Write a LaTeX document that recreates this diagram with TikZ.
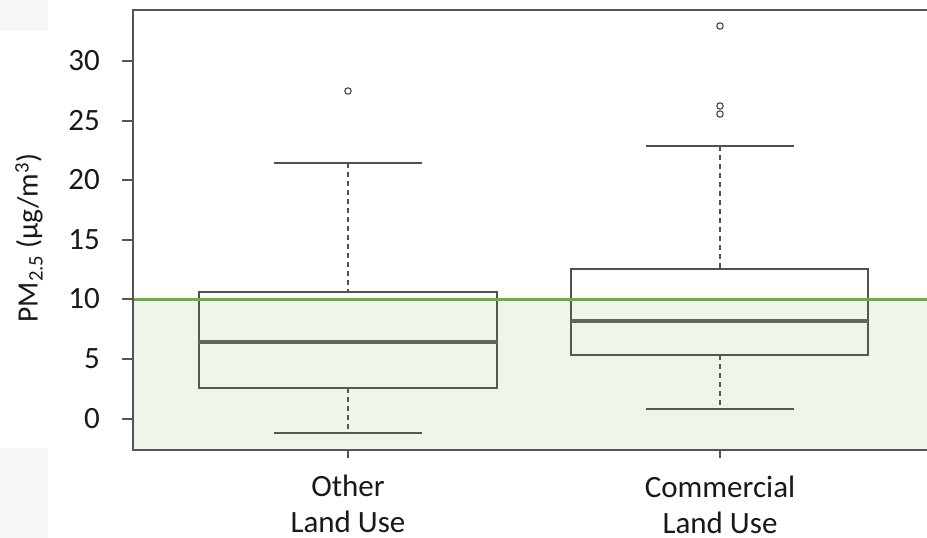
\documentclass[tikz,border=0pt]{standalone}
\usepackage{fontspec}
\setmainfont{Carlito}
\definecolor{frmgray}{RGB}{85,85,85}
\definecolor{boxgray}{RGB}{80,80,80}
\definecolor{medgray}{RGB}{95,95,95}
\definecolor{outgray}{RGB}{70,70,70}
\definecolor{txtcol}{RGB}{25,25,25}
\definecolor{patchgray}{RGB}{246,246,246}
\definecolor{guidegreen}{RGB}{112,173,71}
\begin{document}
\begin{tikzpicture}[x=1pt,y=-1pt,
  frameline/.style={draw=frmgray,line width=2pt},
  boxline/.style={draw=boxgray,line width=2pt,line join=miter},
  medline/.style={draw=medgray,line width=3.2pt},
  whisk/.style={draw=boxgray,line width=1.6pt,dash pattern=on 5pt off 4pt},
  capline/.style={draw=boxgray,line width=1.6pt},
  outl/.style={draw=outgray,line width=1.1pt,fill=white},
  ticklab/.style={anchor=east,inner sep=0pt,font=\fontsize{31}{36}\selectfont,text=txtcol},
  catlab/.style={anchor=north,inner sep=0pt,align=center,font=\fontsize{31}{36}\selectfont,text=txtcol}
]
\useasboundingbox (0,0) rectangle (927,538);
\fill[white] (0,0) rectangle (927,538);
% faint grey patches at the left
\fill[patchgray] (0,0) rectangle (48,31);
\fill[patchgray] (0,448) rectangle (48,538);

% ---- box 1: Other Land Use (centre x=348)
\draw[whisk] (348,163) -- (348,292);
\draw[whisk] (348,388) -- (348,433);
\draw[capline] (274,163) -- (422,163);
\draw[capline] (274,433) -- (422,433);
\draw[boxline,fill=white] (199,292) rectangle (497,388);
\draw[medline] (199,342) -- (497,342);
\draw[outl] (348,91) circle (3.2pt);

% ---- box 2: Commercial Land Use (centre x=720)
\draw[whisk] (720,146) -- (720,269);
\draw[whisk] (720,355) -- (720,409);
\draw[capline] (646,146) -- (794,146);
\draw[capline] (646,409) -- (794,409);
\draw[boxline,fill=white] (571,269) rectangle (868,355);
\draw[medline] (571,321) -- (868,321);
\draw[outl] (720,26) circle (3.2pt);
\draw[outl] (720,106) circle (3.2pt);
\draw[outl] (720,114) circle (3.2pt);

% ---- green guideline region (value 10 and below)
\fill[guidegreen,fill opacity=0.11] (133,299) rectangle (927,450);
\draw[guidegreen,line width=3pt] (134,299) -- (927,299);

% ---- frame
\draw[frameline] (927,10) -- (133,10) -- (133,450) -- (927,450);

% ---- y ticks and labels
\foreach \v/\yy in {30/61,25/121,20/180,15/240,10/299,5/359,0/419}{
  \draw[frameline,line width=1.6pt] (122,\yy) -- (133,\yy);
  \node[ticklab] (t\v) at (100,\yy) {\v};
}
\node[rotate=90,inner sep=0pt,font=\fontsize{29.5}{35}\selectfont,text=txtcol] (ylab) at (29,238) {PM\textsubscript{2.5} (µg/m\textsuperscript{3})};

% ---- x ticks and labels
\draw[frameline,line width=1.6pt] (348,450) -- (348,458);
\draw[frameline,line width=1.6pt] (720,450) -- (720,458);
\node[catlab] (c1) at (348,475) {Other\\Land Use};
\node[catlab] (c2) at (720,476) {Commercial\\Land Use};
\end{tikzpicture}
\end{document}
